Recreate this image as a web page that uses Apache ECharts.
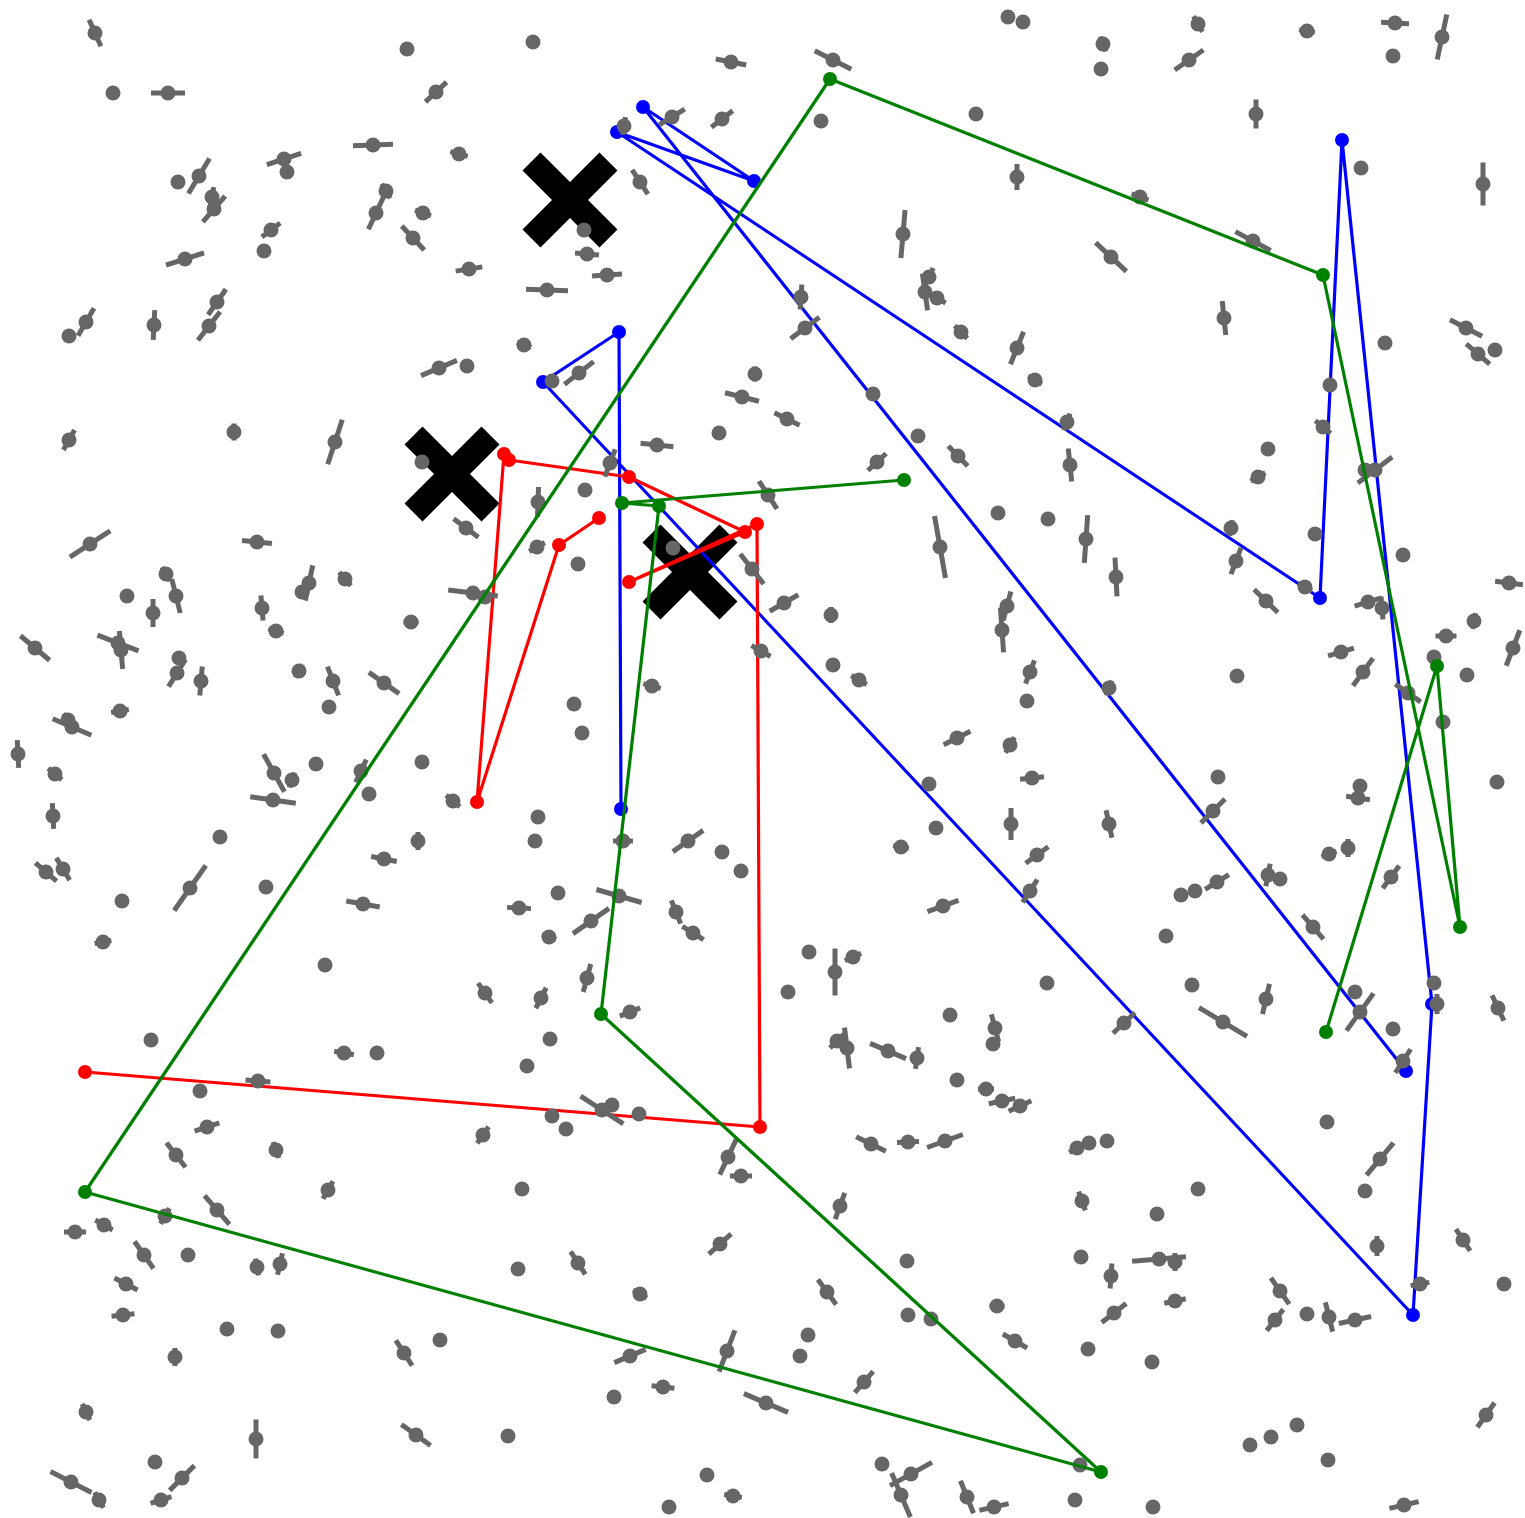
<!DOCTYPE html>
<html>
<head>
<meta charset="utf-8">
<title>Glyph field with tracks</title>
<script src="https://cdn.jsdelivr.net/npm/echarts@6/dist/echarts.min.js"></script>
<style>
  html, body { margin: 0; padding: 0; background: #ffffff; }
  #chart { width: 1525px; height: 1518px; }
</style>
</head>
<body>
<div id="chart"></div>
<script>
// Field samples: [x, y, vector length, direction in degrees]; length 0 = point only
const glyphs = [
  [95,33,29,-66],[113,93,0,0],[168,93,34,0],[407,49,0,0],[436,92,29,43],[373,145,40,2],
  [459,154,18,-15],[284,159,36,18],[287,172,0,0],[199,176,41,59],[178,182,0,0],[212,197,20,80],
  [214,209,34,49],[386,191,17,-60],[376,213,36,65],[423,213,17,-20],[413,238,33,-47],[271,230,23,37],
  [264,251,0,0],[185,259,40,18],[469,269,27,9],[217,302,31,55],[209,326,36,52],[86,322,32,60],
  [69,336,0,0],[154,325,30,87],[439,368,39,23],[467,366,0,0],[69,440,23,61],[234,432,17,90],
  [335,442,47,72],[422,462,0,0],
  [533,42,0,0],[731,62,31,-11],[833,60,41,-27],[1008,17,0,0],[672,117,30,32],[722,119,27,38],
  [624,126,18,80],[821,121,0,0],[976,114,0,0],[640,182,29,-57],[584,230,0,0],[587,254,24,-5],
  [607,275,30,4],[547,290,42,-2],[903,234,48,85],[929,277,20,65],[925,292,37,-82],[937,298,20,-30],
  [801,297,25,86],[805,328,36,37],[961,332,18,-45],[1017,348,35,68],[524,345,15,-20],[579,373,37,38],
  [552,381,0,0],[755,374,15,90],[742,397,35,-14],[873,394,0,0],[787,419,28,-26],[719,433,0,0],
  [918,436,0,0],[958,456,28,-46],[877,462,25,43],[657,445,33,-6],[610,463,29,69],[585,490,0,0],
  [538,502,30,88],[768,495,33,-57],[998,513,0,0],
  [1023,22,0,0],[1198,24,18,-60],[1307,31,16,-10],[1395,23,28,-3],[1442,37,46,78],[1103,44,16,-70],
  [1101,69,0,0],[1189,60,35,35],[1393,56,0,0],[1256,114,29,90],[1361,168,0,0],[1483,184,43,90],
  [1140,197,18,-20],[1017,177,26,90],[1111,257,42,-43],[1253,241,40,-28],[1224,318,34,-84],[1385,343,0,0],
  [1466,328,36,-27],[1478,354,31,-41],[1495,350,0,0],[1035,380,16,-30],[1330,385,0,0],[1067,422,18,70],
  [1323,427,20,-40],[1268,449,0,0],[1070,465,33,96],[1258,477,17,30],[1365,470,0,0],[1375,470,43,37],
  [90,544,48,33],[257,542,30,-6],[466,528,31,-37],[166,574,16,-60],[176,596,35,-76],[127,596,0,0],
  [153,613,28,90],[309,583,36,78],[302,592,0,0],[262,608,25,-85],[345,579,18,-50],[473,593,50,-7],
  [485,597,0,0],[276,631,16,-15],[411,622,15,0],[35,648,38,-40],[118,643,44,-21],[121,650,38,-85],
  [179,658,0,0],[177,673,32,58],[201,681,29,85],[299,671,15,60],[333,681,31,-69],[384,683,37,-35],
  [329,707,0,0],[120,711,18,10],[72,727,42,-23],[68,720,16,-55],[18,754,28,-87],[55,774,18,-40],
  [274,773,43,-61],[292,780,16,70],[316,764,0,0],[361,771,25,65],[422,762,0,0],[273,800,46,-8],
  [369,794,0,0],[453,801,18,-40],[53,816,26,-87],[220,837,0,0],[418,841,18,90],[384,859,26,-11],
  [46,872,28,-41],[63,869,26,-59],[190,888,55,55],[266,887,0,0],[122,901,0,0],[363,904,34,-10],
  [103,942,17,10],[325,965,0,0],[485,993,24,-55],[519,908,24,-3],
  [537,547,18,30],[578,564,0,0],[673,548,0,0],[752,569,38,-52],[784,603,33,30],[831,615,16,90],
  [940,547,63,-80],[1007,606,30,75],[1002,630,45,-86],[761,651,22,-30],[833,665,0,0],[859,680,18,-30],
  [652,686,18,-15],[574,704,0,0],[582,733,0,0],[957,738,30,27],[1010,745,18,60],[929,784,0,0],
  [538,817,0,0],[535,841,0,0],[623,841,20,0],[688,841,37,35],[722,852,0,0],[741,871,0,0],
  [936,828,0,0],[901,847,16,-10],[1011,824,32,90],[558,893,0,0],[619,896,47,-16],[591,921,44,35],
  [676,912,25,-68],[693,933,25,-32],[549,937,15,-20],[943,906,33,20],[809,952,0,0],[835,972,47,90],
  [853,957,18,25],[788,992,0,0],[587,978,29,75],[541,998,23,63],[630,1012,22,22],[950,1015,0,0],
  [995,1028,28,-75],[993,1044,0,0],
  [1048,519,0,0],[1086,539,48,86],[1116,577,39,93],[1231,528,16,80],[1236,561,28,69],[1315,534,0,0],
  [1305,587,16,-30],[1266,601,33,-44],[1368,602,28,17],[1382,608,23,-85],[1403,555,0,0],[1509,583,28,-7],
  [1474,621,16,80],[1446,636,21,0],[1513,648,38,69],[1434,657,0,0],[1467,675,0,0],[1341,652,27,17],
  [1363,672,34,54],[1408,693,31,-35],[1443,722,0,0],[1030,672,25,69],[1027,701,0,0],[1109,688,16,70],
  [1237,676,0,0],[1032,778,24,6],[1218,777,0,0],[1497,782,0,0],[1360,786,0,0],[1358,798,24,-8],
  [1213,811,34,45],[1109,824,28,-78],[1037,855,28,36],[1030,891,27,57],[1181,895,0,0],[1195,891,0,0],
  [1217,882,28,32],[1268,875,23,79],[1280,879,0,0],[1329,854,16,20],[1348,848,18,90],[1391,877,28,54],
  [1313,927,32,-49],[1166,936,0,0],[1047,983,0,0],[1192,985,0,0],[1266,999,31,77],[1355,992,0,0],
  [1360,1012,46,54],[1434,983,0,0],[1437,1004,20,90],[1498,1008,28,-65],[1223,1022,56,-31],
  [1124,1023,30,43],[1393,1029,0,0],[1403,1061,28,57],[1020,1106,25,25],[1077,1148,18,30],[1089,1143,0,0],
  [1107,1141,0,0],[1327,1122,0,0],[1380,1159,42,50],[1365,1191,0,0],[1198,1189,0,0],[1082,1201,20,-70],
  [1157,1214,0,0],[1463,1240,26,-57],[1377,1246,20,90],[1081,1257,0,0],[1159,1259,54,5],[1175,1262,18,90],
  [1111,1276,25,86],[1420,1284,19,10],[1504,1284,0,0],[1175,1301,22,12],[1114,1313,31,38],[1280,1291,32,-55],
  [1275,1320,27,52],[1307,1314,0,0],[1329,1317,30,-76],[1355,1320,33,12],[1015,1341,28,-30],[1088,1349,0,0],
  [1152,1362,0,0],[1486,1415,30,55],[1297,1425,0,0],[1271,1437,0,0],[1250,1445,0,0],[1328,1460,0,0],
  [1080,1465,0,0],[1075,1500,0,0],[1153,1507,0,0],[1404,1505,30,13],
  [550,1039,0,0],[527,1066,0,0],[837,1041,20,45],[847,1048,41,-83],[888,1051,39,-23],[917,1058,22,82],
  [957,1080,0,0],[986,1089,16,0],[1002,1101,27,12],[602,1110,51,-33],[612,1105,0,0],[552,1116,0,0],
  [566,1129,0,0],[639,1114,0,0],[728,1157,39,65],[741,1176,22,0],[871,1144,33,-26],[908,1142,22,3],
  [945,1141,38,20],[522,1189,0,0],[840,1206,28,70],[720,1244,30,42],[578,1263,27,-57],[518,1269,0,0],
  [907,1261,0,0],[640,1294,16,-30],[827,1292,31,-54],[997,1306,15,0],[908,1315,0,0],[931,1319,0,0],
  [808,1335,0,0],[800,1356,0,0],[727,1351,44,69],[630,1356,34,23],[663,1387,23,-6],[614,1397,0,0],
  [864,1382,28,49],[766,1403,48,-23],[508,1436,0,0],[882,1464,0,0],[911,1474,48,29],[901,1495,48,-67],
  [707,1475,0,0],[733,1496,18,-10],[669,1507,0,0],[967,1497,35,-68],[994,1507,30,13],
  [151,1040,0,0],[344,1053,20,-10],[377,1053,0,0],[258,1081,25,-5],[200,1091,0,0],[207,1127,26,18],
  [176,1155,31,-52],[276,1150,17,-70],[328,1190,20,60],[483,1135,20,55],[217,1210,38,-49],[165,1216,18,60],
  [75,1232,22,0],[104,1225,20,-30],[144,1255,33,-55],[188,1255,0,0],[257,1267,17,-80],[280,1264,22,77],
  [126,1284,26,-27],[123,1315,23,6],[227,1329,0,0],[278,1331,0,0],[404,1353,30,-57],[440,1340,0,0],
  [175,1357,18,90],[86,1412,18,-65],[256,1439,39,90],[416,1435,36,-36],[155,1462,0,0],[71,1482,46,-27],
  [99,1500,18,-60],[182,1478,35,45],[161,1500,22,18]
];

// Tracks, in visiting order
const blueTrack = [[1406,1071],[643,107],[754,181],[617,132],[1320,598],[1342,140],[1432,1004],[1413,1315],[543,382],[619,332],[621,809]];
const redTrack = [[599,518],[559,545],[477,802],[504,454],[509,460],[629,477],[745,532],[629,582],[757,524],[760,1127],[85,1072]];
const greenTrack = [[1326,1032],[1437,666],[1460,927],[1323,275],[830,79],[85,1192],[1101,1472],[601,1014],[659,506],[622,503],[904,480]];

// Reference sites
const sites = [[570,200],[452,474],[690,572]];

const GRAY = '#666666';
const crossPath = 'path://M18 0L47.5 29.5L77 0L95 18L65.5 47.5L95 77L77 95L47.5 65.5L18 95L0 77L29.5 47.5L0 18Z';

// A track is a polyline plus a filled marker at every visited point
function track(data, color, z) {
  return [
    {
      type: 'line',
      data: data,
      z: z,
      symbol: 'none',
      clip: false,
      lineStyle: { color: color, width: 3.2, opacity: 1 },
      emphasis: { disabled: true },
      silent: true
    },
    {
      type: 'scatter',
      data: data,
      z: z,
      symbol: 'circle',
      symbolSize: 14,
      itemStyle: { color: color, opacity: 1 },
      emphasis: { disabled: true },
      silent: true
    }
  ];
}

const chart = echarts.init(document.getElementById('chart'), null, { renderer: 'canvas' });
chart.setOption({
  animation: false,
  backgroundColor: '#ffffff',
  grid: { left: 0, right: 0, top: 0, bottom: 0 },
  xAxis: { type: 'value', min: 0, max: 1525, show: false },
  yAxis: { type: 'value', min: 0, max: 1518, inverse: true, show: false },
  series: [
    {
      type: 'scatter',
      data: sites,
      z: 1,
      symbol: crossPath,
      symbolSize: 95,
      itemStyle: { color: '#000000', opacity: 1 },
      silent: true
    },
    ...track(blueTrack, '#0000ff', 2),
    ...track(redTrack, '#ff0000', 3),
    {
      type: 'scatter',
      z: 4,
      symbol: 'rect',
      itemStyle: { color: GRAY, opacity: 1 },
      silent: true,
      data: glyphs.filter(g => g[2] > 0).map(g => ({
        value: [g[0], g[1]],
        symbolSize: [g[2], 5],
        symbolRotate: g[3]
      }))
    },
    {
      type: 'scatter',
      z: 5,
      symbol: 'circle',
      symbolSize: 15,
      itemStyle: { color: GRAY, opacity: 1 },
      silent: true,
      data: glyphs.map(g => [g[0], g[1]])
    },
    ...track(greenTrack, '#008000', 6)
  ]
});
</script>
</body>
</html>
